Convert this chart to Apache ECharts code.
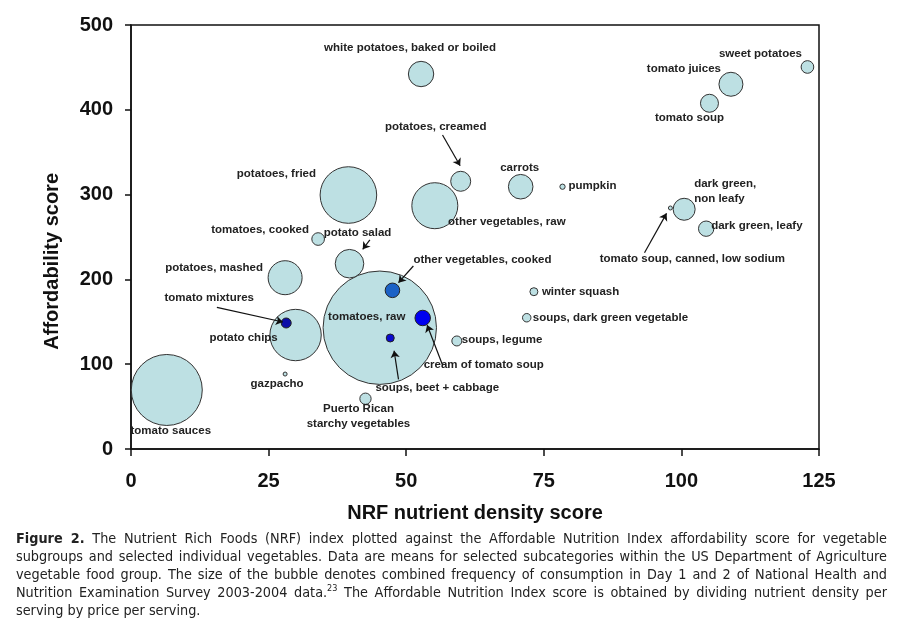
<!DOCTYPE html>
<html>
<head>
<meta charset="utf-8">
<script src="https://cdn.jsdelivr.net/npm/echarts@6/dist/echarts.min.js"></script>
<style>
  html, body { margin: 0; padding: 0; background: #fff; }
  #chart { position: absolute; left: 0; top: 0; width: 903px; height: 624px; }
  #caption { position: absolute; left: 16px; top: 529px; width: 871px;
    font-family: "Liberation Sans Narrow", "DejaVu Sans Condensed", "Liberation Sans", sans-serif;
    font-stretch: condensed;
    font-size: 14.3px; line-height: 18px; color: #222; }
  #caption .ln { text-align: justify; text-align-last: justify; white-space: nowrap; }
  #caption .last { text-align: left; text-align-last: left; }
  sup { font-size: 9px; line-height: 0; vertical-align: 6px; }
</style>
</head>
<body>
<div id="chart"></div>
<div id="caption"></div>
<script>
// ---- data ----
const names = [
  "white potatoes, baked or boiled", "sweet potatoes", "tomato juices", "tomato soup",
  "potatoes, creamed", "carrots", "pumpkin", "potatoes, fried", "other vegetables, raw",
  "dark green,\nnon leafy", "tomato soup, canned, low sodium", "dark green, leafy",
  "tomatoes, cooked", "potato salad", "potatoes, mashed", "other vegetables, cooked",
  "winter squash", "soups, dark green vegetable", "tomato mixtures", "potato chips",
  "tomatoes, raw", "cream of tomato soup", "soups, legume", "soups, beet + cabbage",
  "gazpacho", "Puerto Rican\nstarchy vegetables", "tomato sauces"
];
const nrfScore = [52.7, 122.9, 109.0, 105.1, 59.9, 70.8, 78.4, 39.5, 55.2, 100.5, 98.0, 104.5,
  34.0, 39.7, 28.0, 47.5, 73.2, 71.9, 28.2, 29.9, 45.2, 53.0, 59.2, 47.1, 28.0, 42.6, 6.5];
const affordScore = [442.2, 450.5, 430.1, 407.7, 315.7, 309.3, 309.3, 299.5, 286.9, 282.7, 284.2, 259.8,
  247.6, 218.5, 202.0, 187.1, 185.5, 154.8, 148.6, 134.4, 143.0, 154.5, 127.4, 130.9, 88.4, 59.3, 69.6];
// combined frequency of consumption (relative units)
const frequency = [161, 40, 144, 81, 100, 151, 7, 801, 529, 121, 4, 59,
  40, 204, 289, 53, 16, 18, 25, 660, 3215, 60, 25, 16, 4, 32, 1260];
// individual vegetables drawn as dark markers
const individualItems = ["other vegetables, cooked", "tomato mixtures", "cream of tomato soup", "soups, beet + cabbage"];
const xTicks = [0, 25, 50, 75, 100, 125];
const yTicks = [0, 100, 200, 300, 400, 500];

// ---- annotation layout (styles) ----
const labelLayout = {
  "white potatoes, baked or boiled": [-11, -26],
  "sweet potatoes": [-47, -13],
  "tomato juices": [-47, -15],
  "tomato soup": [-20, 15],
  "potatoes, creamed": [-25, -54],
  "carrots": [-1, -19],
  "pumpkin": [6, -1, "left"],
  "potatoes, fried": [-72, -21],
  "other vegetables, raw": [72, 16],
  "dark green,\nnon leafy": [10, -18, "left"],
  "tomato soup, canned, low sodium": [22, 51],
  "dark green, leafy": [5, -3, "left"],
  "tomatoes, cooked": [-58, -9],
  "potato salad": [8, -31],
  "potatoes, mashed": [-71, -10],
  "other vegetables, cooked": [90, -31],
  "winter squash": [8, 0, "left"],
  "soups, dark green vegetable": [6, 0, "left"],
  "tomato mixtures": [-77, -25],
  "potato chips": [-52, 3],
  "tomatoes, raw": [-13, -11],
  "cream of tomato soup": [61, 47],
  "soups, legume": [5, -1, "left"],
  "soups, beet + cabbage": [47, 50],
  "gazpacho": [-8, 10],
  "Puerto Rican\nstarchy vegetables": [-7, 18],
  "tomato sauces": [4, 41]
};
const darkColors = {
  "other vegetables, cooked": "#1b62c6",
  "tomato mixtures": "#0c0ca8",
  "cream of tomato soup": "#0000f0",
  "soups, beet + cabbage": "#0a0ad0"
};
// arrows: [fromX, fromY, toX, toY] in data units
const arrows = [
  [56.6, 370.3, 59.8, 334.1],
  [43.4, 246.5, 42.1, 235.5],
  [51.3, 215.8, 48.6, 196.1],
  [15.6, 167.1, 27.6, 149.8],
  [56.6, 99.1, 53.8, 146.2],
  [48.6, 82.2, 47.8, 115.9],
  [93.3, 231.5, 97.3, 277.9]
];

function item(i) {
  const n = names[i];
  const lay = labelLayout[n] || [0, 0];
  const d = {
    name: n,
    value: [nrfScore[i], affordScore[i], frequency[i]],
    label: { offset: [lay[0], lay[1]], align: lay[2] || "center" }
  };
  if (darkColors[n]) d.itemStyle = { color: darkColors[n] };
  return d;
}
const idx = names.map((_, i) => i);
const lightData = idx.filter(i => !individualItems.includes(names[i]))
  .sort((a, b) => frequency[b] - frequency[a]).map(item);
const darkData = idx.filter(i => individualItems.includes(names[i])).map(item);

const labelStyle = {
  show: true,
  position: ["50%", "50%"],
  verticalAlign: "middle",
  formatter: p => p.name,
  fontFamily: "Liberation Sans, Arial, sans-serif",
  fontWeight: "bold",
  fontSize: 11.5,
  lineHeight: 15,
  color: "#222"
};

const chart = echarts.init(document.getElementById("chart"), null, { renderer: "canvas" });
chart.setOption({
  animation: false,
  backgroundColor: "#fff",
  grid: { left: 131, right: 84, top: 25, bottom: 175, show: true, borderColor: "#111", borderWidth: 1.5 },
  xAxis: {
    type: "value", min: xTicks[0], max: xTicks[xTicks.length - 1], interval: 25,
    splitLine: { show: false },
    axisLine: { show: true, lineStyle: { color: "#111", width: 1.5 } },
    axisTick: { show: true, inside: false, length: 7, lineStyle: { color: "#111", width: 1.5 } },
    axisLabel: { margin: 22, fontSize: 20, fontWeight: "bold", color: "#111", fontFamily: "Liberation Sans, Arial, sans-serif" },
    name: "NRF nutrient density score", nameLocation: "middle", nameGap: 54,
    nameTextStyle: { fontSize: 20, fontWeight: "bold", color: "#111", fontFamily: "Liberation Sans, Arial, sans-serif" }
  },
  yAxis: {
    type: "value", min: yTicks[0], max: yTicks[yTicks.length - 1], interval: 100,
    splitLine: { show: false },
    axisLine: { show: true, lineStyle: { color: "#111", width: 1.5 } },
    axisTick: { show: true, inside: false, length: 6, lineStyle: { color: "#111", width: 1.5 } },
    axisLabel: { margin: 18, fontSize: 20, fontWeight: "bold", color: "#111", fontFamily: "Liberation Sans, Arial, sans-serif" }
  },
  graphic: [{
    type: "text", left: 42, top: 173, rotation: Math.PI / 2,
    style: { text: "Affordability score", fontSize: 20, fontWeight: "bold", fill: "#111",
      fontFamily: "Liberation Sans, Arial, sans-serif" }
  }],
  series: [
    {
      type: "scatter",
      data: lightData,
      symbol: "circle",
      symbolSize: v => 2 * Math.sqrt(v[2]),
      itemStyle: { color: "#bde0e3", borderColor: "#333", borderWidth: 1, opacity: 1 },
      label: labelStyle,
      z: 2
    },
    {
      type: "scatter",
      data: darkData,
      symbol: "circle",
      symbolSize: v => 2 * Math.sqrt(v[2]),
      itemStyle: { borderColor: "#222", borderWidth: 1, opacity: 1 },
      label: labelStyle,
      z: 3,
      markLine: {
        silent: true,
        symbol: ["none", "arrow"],
        symbolSize: 7,
        label: { show: false },
        lineStyle: { color: "#111", width: 1.2, type: "solid" },
        data: arrows.map(a => [{ coord: [a[0], a[1]] }, { coord: [a[2], a[3]] }])
      }
    }
  ]
});

// caption
const captionLines = [
  "<b>Figure 2.</b> The Nutrient Rich Foods (NRF) index plotted against the Affordable Nutrition Index affordability score for vegetable",
  "subgroups and selected individual vegetables. Data are means for selected subcategories within the US Department of Agriculture",
  "vegetable food group. The size of the bubble denotes combined frequency of consumption in Day 1 and 2 of National Health and",
  "Nutrition Examination Survey 2003-2004 data.<sup>23</sup> The Affordable Nutrition Index score is obtained by dividing nutrient density per",
  "serving by price per serving."
];
const cap = document.getElementById("caption");
captionLines.forEach((t, i) => {
  const d = document.createElement("div");
  d.className = i === captionLines.length - 1 ? "ln last" : "ln";
  d.innerHTML = t;
  cap.appendChild(d);
});
</script>
</body>
</html>
